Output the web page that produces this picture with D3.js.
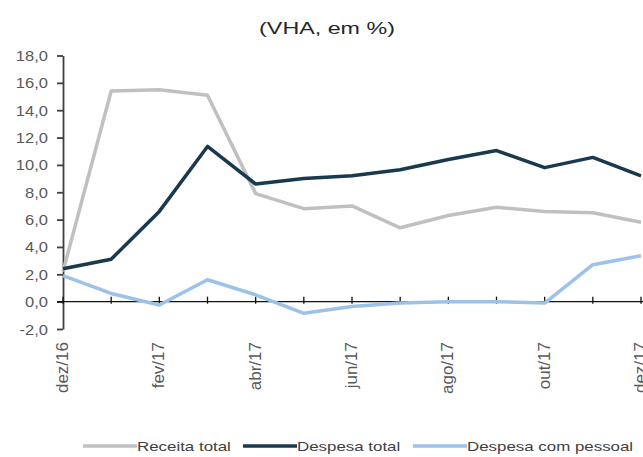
<!DOCTYPE html>
<html>
<head>
<meta charset="utf-8">
<script src="https://cdn.jsdelivr.net/npm/d3@7"></script>
<style>
  body { margin: 0; background: #fff; }
  svg { display: block; font-family: Arial, "Liberation Sans", sans-serif; }
</style>
</head>
<body>
<div id="chart"></div>
<script>
// meses (dez/16 .. dez/17)
var months = ["dez/16", "jan/17", "fev/17", "mar/17", "abr/17", "mai/17", "jun/17",
              "jul/17", "ago/17", "set/17", "out/17", "nov/17", "dez/17"];

var receitaTotal   = [2.2, 15.4, 15.5, 15.1, 7.9, 6.8, 7.0, 5.4, 6.3, 6.9, 6.6, 6.5, 5.8];
var despesaTotal   = [2.4, 3.1, 6.6, 11.35, 8.6, 9.0, 9.2, 9.65, 10.4, 11.05, 9.8, 10.55, 9.2];
var despesaPessoal = [1.9, 0.6, -0.25, 1.6, 0.5, -0.85, -0.35, -0.1, 0.0, 0.0, -0.1, 2.7, 3.35];

var yTicks = [-2, 0, 2, 4, 6, 8, 10, 12, 14, 16, 18];

var seriesNames  = ["Receita total", "Despesa total", "Despesa com pessoal"];
var seriesColors = ["#c0c0c0", "#19394f", "#9cc2ea"];

var width = 643,
    height = 457;

var svg = d3.select("#chart")
  .append("svg")
    .attr("width", width)
    .attr("height", height);

var x = d3.scalePoint()
  .domain(months)
  .range([63, 641]);

var y = d3.scaleLinear()
  .domain([-2, 18])
  .range([329, 55.5]);

var fmt = function(v) { return d3.format(".1f")(v).replace(".", ",").replace("−", "-"); };

// titulo (o texto original e mais largo, por isso o scale horizontal)
svg.append("text")
  .attr("transform", "translate(327,34) scale(1.37,1)")
  .attr("text-anchor", "middle")
  .style("font-size", "17px")
  .style("fill", "#262626")
  .text("(VHA, em %)");

// eixo y
var yAxis = svg.append("g")
  .attr("transform", "translate(63,0)")
  .call(d3.axisLeft(y).tickValues(yTicks).tickFormat(fmt).tickSize(6).tickSizeOuter(0));
yAxis.select(".domain").attr("stroke", "#404040").attr("stroke-width", 1.8);
yAxis.selectAll(".tick line").attr("stroke", "#404040").attr("stroke-width", 1.8);
yAxis.selectAll("text")
  .attr("x", 0)
  .attr("dy", "0.36em")
  .attr("transform", "translate(-15,0) scale(1.18,1)")
  .style("font-size", "14px")
  .style("fill", "#595959")
  .style("font-family", "Arial, 'Liberation Sans', sans-serif");

// eixo x em zero
var xAxis = svg.append("g")
  .attr("transform", "translate(0," + y(0) + ")");
xAxis.append("line")
  .attr("x1", 57).attr("x2", width)
  .attr("stroke", "#111").attr("stroke-width", 1.3);
xAxis.selectAll("line.tk")
  .data(months)
  .enter()
  .append("line")
    .attr("class", "tk")
    .attr("x1", function(d) { return x(d); })
    .attr("x2", function(d) { return x(d); })
    .attr("y1", -5).attr("y2", 2)
    .attr("stroke", "#111").attr("stroke-width", 1.3);

// rotulos do eixo x (a cada dois meses)
svg.selectAll("text.xl")
  .data(months.filter(function(d, i) { return i % 2 == 0; }))
  .enter()
  .append("text")
    .attr("class", "xl")
    .attr("transform", function(d) { return "translate(" + (x(d) + 5) + ",342) rotate(-90)"; })
    .attr("text-anchor", "end")
    .style("font-size", "17px")
    .style("fill", "#595959")
    .text(function(d) { return d; });

// linhas
var line = d3.line()
  .x(function(d, i) { return x(months[i]); })
  .y(function(d) { return y(d); });

var allSeries = [receitaTotal, despesaTotal, despesaPessoal];

svg.selectAll("path.serie")
  .data(allSeries)
  .enter()
  .append("path")
    .attr("class", "serie")
    .attr("d", line)
    .attr("fill", "none")
    .attr("stroke", function(d, i) { return seriesColors[i]; })
    .attr("stroke-width", 3.5)
    .attr("stroke-linejoin", "round");

// legenda
var legendX = [83, 243, 413];
var legend = svg.selectAll("g.leg")
  .data(seriesNames)
  .enter()
  .append("g")
    .attr("class", "leg")
    .attr("transform", function(d, i) { return "translate(" + legendX[i] + ",446)"; });

legend.append("line")
  .attr("x1", 0).attr("x2", 54)
  .attr("stroke", function(d, i) { return seriesColors[i]; })
  .attr("stroke-width", 3.5);

legend.append("text")
  .attr("transform", "translate(54,5) scale(1.3,1)")
  .style("font-size", "13px")
  .style("fill", "#404040")
  .text(function(d) { return d; });
</script>
</body>
</html>
